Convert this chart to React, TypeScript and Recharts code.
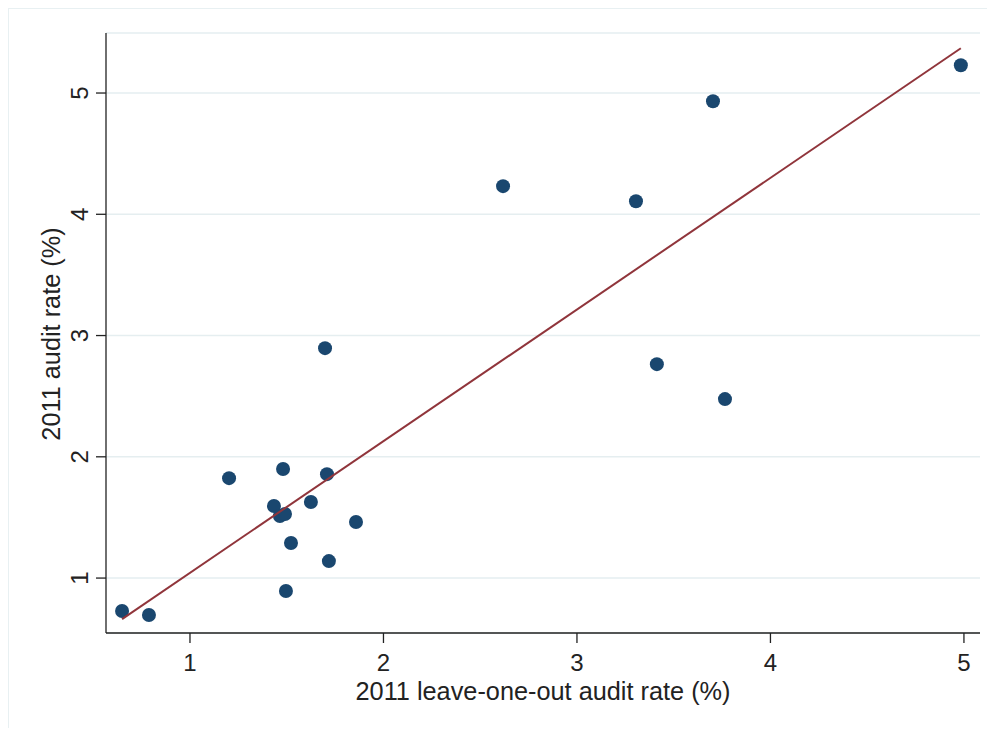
import React from "react";
import { ComposedChart, Scatter, XAxis, YAxis, CartesianGrid } from "recharts";

// Leave-one-out audit rate (x) vs 2011 audit rate (y), in %
const leaveOneOut = [0.649, 0.788, 1.202, 1.481, 1.434, 1.465, 1.491, 1.625, 1.708, 1.522, 1.858, 1.718, 1.496, 1.698, 2.618, 3.305, 3.703, 3.413, 3.765, 4.984];
const auditRate = [0.728, 0.695, 1.824, 1.899, 1.594, 1.511, 1.528, 1.627, 1.857, 1.289, 1.462, 1.140, 0.893, 2.896, 4.232, 4.108, 4.932, 2.764, 2.476, 5.229];

// Fitted line endpoints
const fitX = [0.649, 4.984];
const fitY = [0.662, 5.369];

const xTicks = [1, 2, 3, 4, 5];
const yTicks = [1, 2, 3, 4, 5];

const xLabel = "2011 leave-one-out audit rate (%)";
const yLabel = "2011 audit rate (%)";

const points = leaveOneOut.map((x, i) => ({ x, y: auditRate[i] }));
const fitLine = fitX.map((x, i) => ({ x, y: fitY[i] }));

const FONT = "'Liberation Sans', Arial, Helvetica, sans-serif";
const TEXT = "#222222";
const FS_TICK = 24;
const FS_TITLE = 25.3;

const XTick = (props: any) => {
  const { x, y, payload } = props;
  return (
    <text x={x} y={y + 28} textAnchor="middle" fontFamily={FONT} fontSize={FS_TICK} fill={TEXT}>
      {payload.value}
    </text>
  );
};

const YTick = (props: any) => {
  const { x, y, payload } = props;
  const cx = x - 16;
  return (
    <text
      x={cx}
      y={y}
      transform={`rotate(-90, ${cx}, ${y})`}
      textAnchor="middle"
      dominantBaseline="central"
      fontFamily={FONT}
      fontSize={FS_TICK}
      fill={TEXT}
    >
      {payload.value}
    </text>
  );
};

const Dot = (props: any) => {
  const { cx, cy } = props;
  return <circle cx={cx} cy={cy} r={7} fill="#1a476f" />;
};

const NoShape = () => null;

export default function App() {
  return (
    <div
      style={{
        width: 985,
        height: 719,
        borderTop: "1px solid #e8f0f2",
        borderLeft: "1px solid #e8f0f2",
        background: "#ffffff",
      }}
    >
      <ComposedChart
        width={985}
        height={719}
        margin={{ top: 24, right: 14, bottom: 35, left: 37 }}
      >
        <CartesianGrid horizontal={true} vertical={false} stroke="#e5eef0" strokeWidth={1.5} />
        <XAxis
          type="number"
          dataKey="x"
          domain={[0.566, 5.083]}
          allowDataOverflow
          ticks={xTicks}
          tickSize={10}
          tickMargin={0}
          height={60}
          stroke="#222"
          axisLine={{ stroke: "#222", strokeWidth: 1.3 }}
          tickLine={{ stroke: "#222", strokeWidth: 1.3 }}
          tick={<XTick />}
          label={{
            content: (p: any) => {
              const vb = p.viewBox;
              return (
                <text
                  x={vb.x + vb.width / 2}
                  y={vb.y + 58}
                  textAnchor="middle"
                  dominantBaseline="central"
                  fontFamily={FONT}
                  fontSize={FS_TITLE}
                  fill={TEXT}
                >
                  {xLabel}
                </text>
              );
            },
          }}
        />
        <YAxis
          type="number"
          dataKey="y"
          domain={[0.547, 5.495]}
          allowDataOverflow
          ticks={yTicks}
          tickSize={10}
          tickMargin={0}
          width={60}
          stroke="#222"
          axisLine={{ stroke: "#222", strokeWidth: 1.3 }}
          tickLine={{ stroke: "#222", strokeWidth: 1.3 }}
          tick={<YTick />}
          label={{
            content: (p: any) => {
              const vb = p.viewBox;
              const cx = vb.x + 5;
              const cy = vb.y + vb.height / 2 + 1;
              return (
                <text
                  x={cx}
                  y={cy}
                  transform={`rotate(-90, ${cx}, ${cy})`}
                  textAnchor="middle"
                  dominantBaseline="central"
                  fontFamily={FONT}
                  fontSize={FS_TITLE}
                  fill={TEXT}
                >
                  {yLabel}
                </text>
              );
            },
          }}
        />
        <Scatter data={points} shape={<Dot />} isAnimationActive={false} />
        <Scatter
          data={fitLine}
          shape={<NoShape />}
          line={{ stroke: "#90353b", strokeWidth: 2 }}
          lineType="joint"
          isAnimationActive={false}
        />
      </ComposedChart>
    </div>
  );
}
